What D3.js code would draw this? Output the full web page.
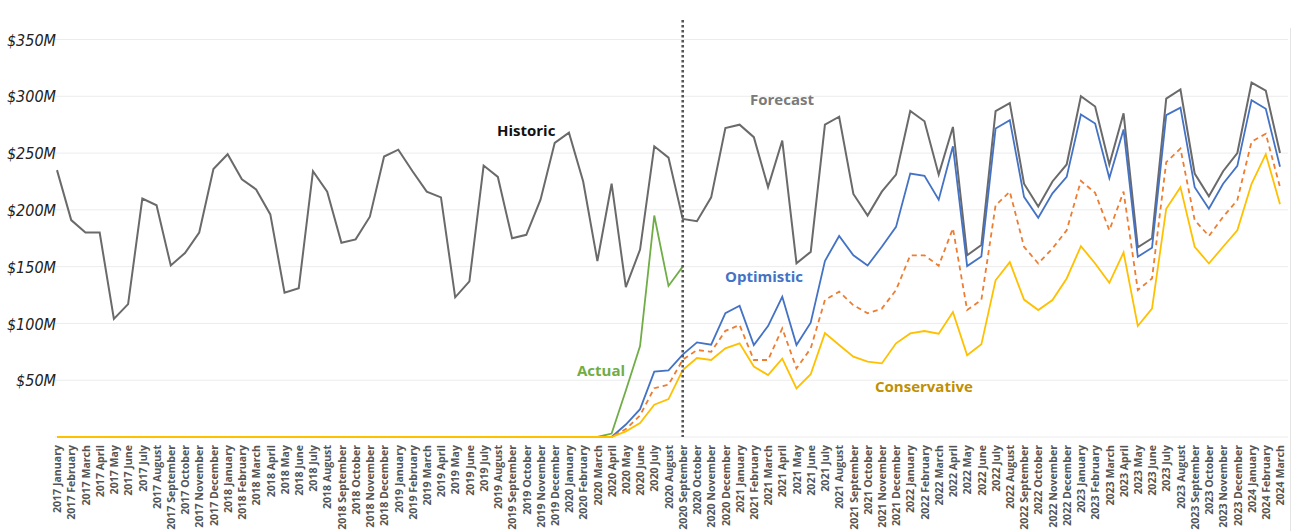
<!DOCTYPE html>
<html>
<head>
<meta charset="utf-8">
<script src="https://cdn.jsdelivr.net/npm/d3@7"></script>
<style>
  html, body { margin: 0; padding: 0; background: #fff; }
  svg { display: block; }
</style>
</head>
<body>
<svg id="chart" width="1293" height="531"></svg>
<script>
// Monthly categories, 2017 January .. 2024 March
const years = [2017, 2018, 2019, 2020, 2021, 2022, 2023, 2024];
const monthNames = ["January", "February", "March", "April", "May", "June",
  "July", "August", "September", "October", "November", "December"];
const categories = [];
years.forEach(y => monthNames.forEach((m, i) => {
  if (y < 2024 || i < 3) categories.push(y + " " + m);
}));

// Historic values continuing into the forecast ($M)
const historic = [
  235, 191, 180, 180, 104, 117, 210, 204, 151, 162, 180, 236,
  249, 227, 218, 196, 127, 131, 234, 216, 171, 174, 194, 247,
  253, 234, 216, 211, 123, 137, 239, 229, 175, 178, 209, 259,
  268, 225, 155, 223, 132, 165, 256, 246, 192, 190, 211, 272,
  275, 264, 220, 261, 153, 163, 275, 282, 214, 195, 216, 231,
  287, 278, 231, 273, 160, 169, 287, 294, 223, 203, 225, 240,
  300, 291, 240, 285, 167, 175, 298, 306, 232, 212, 234, 250,
  312, 305, 250
];

// Actual values through 2020 September ($M)
const actual = [
  0, 0, 0, 0, 0, 0, 0, 0, 0, 0, 0, 0,
  0, 0, 0, 0, 0, 0, 0, 0, 0, 0, 0, 0,
  0, 0, 0, 0, 0, 0, 0, 0, 0, 0, 0, 0,
  0, 0, 0, 3, 41, 80, 195, 133, 150
];

// Optimistic scenario ($M)
const optimistic = [
  0, 0, 0, 0, 0, 0, 0, 0, 0, 0, 0, 0,
  0, 0, 0, 0, 0, 0, 0, 0, 0, 0, 0, 0,
  0, 0, 0, 0, 0, 0, 0, 0, 0, 0, 0, 0,
  0, 0, 0, 0, 11, 24.5, 57.5, 58.7, 72.5, 83.3, 81.3, 109,
  115.5, 81, 97.7, 123.5, 81, 100.6, 155, 177, 160, 151, 167.5, 185,
  232, 230, 209, 256, 150.5, 159, 271.6, 279, 211.5, 193, 214.5, 229,
  284, 276, 228, 270.8, 158.7, 166.6, 283.4, 290, 220, 201, 223, 238.7,
  296.6, 289, 238
];

// Mid-range scenario ($M)
const midRange = [
  0, 0, 0, 0, 0, 0, 0, 0, 0, 0, 0, 0,
  0, 0, 0, 0, 0, 0, 0, 0, 0, 0, 0, 0,
  0, 0, 0, 0, 0, 0, 0, 0, 0, 0, 0, 0,
  0, 0, 0, 0, 7, 19, 43, 46, 68, 76.6, 75, 93.5,
  98.6, 67.8, 67.8, 95.6, 60.4, 78, 120.6, 128, 116, 109, 113, 129.4,
  160, 160, 150.8, 183.7, 111.8, 120.6, 204, 216, 167.5, 152.8, 166, 182,
  225.5, 215, 182, 216, 129.4, 139.6, 242, 254, 191, 177, 193.8, 208.6,
  260, 267, 220
];

// Conservative scenario ($M)
const conservative = [
  0, 0, 0, 0, 0, 0, 0, 0, 0, 0, 0, 0,
  0, 0, 0, 0, 0, 0, 0, 0, 0, 0, 0, 0,
  0, 0, 0, 0, 0, 0, 0, 0, 0, 0, 0, 0,
  0, 0, 0, 0, 5, 12.3, 28.4, 33.4, 59, 69.5, 67.8, 78,
  82.5, 62, 54.6, 69, 42.8, 55.3, 91.5, 81, 70.7, 66.3, 64.8, 82.5,
  91.2, 93.3, 91, 110, 72, 81.6, 138, 154, 121, 111.8, 120.6, 139.6,
  168, 152.8, 135.8, 162.5, 97.7, 113, 201, 220, 167.5, 152.8, 167.5, 182,
  223, 249, 205
];

const yTicks = [50, 100, 150, 200, 250, 300, 350];
const splitMonth = "2020 September";

const svg = d3.select("#chart");

const x = d3.scalePoint().domain(categories).range([57, 1280]);
const y = d3.scaleLinear().domain([0, 350]).range([437, 39.5]);

// Horizontal gridlines
svg.append("g")
  .selectAll("line")
  .data([0].concat(yTicks))
  .join("line")
  .attr("x1", 55).attr("x2", 1288)
  .attr("y1", d => y(d)).attr("y2", d => y(d))
  .attr("stroke", "#ececec")
  .attr("stroke-width", 1);

// Right frame edge
svg.append("line")
  .attr("x1", 1290.5).attr("x2", 1290.5)
  .attr("y1", 28).attr("y2", 531)
  .attr("stroke", "#e4e4e4").attr("stroke-width", 1);

// Y axis labels
const yAxis = d3.axisLeft(y).tickValues(yTicks).tickSize(0).tickPadding(0)
  .tickFormat(d => "$" + d + "M");
svg.append("g")
  .attr("transform", "translate(56,0)")
  .call(yAxis)
  .call(g => g.select(".domain").remove())
  .call(g => g.selectAll("text")
    .attr("font-family", "'Liberation Sans Narrow', 'DejaVu Sans Condensed', 'Open Sans', sans-serif")
    .attr("font-style", "italic")
    .attr("font-size", 16)
    .attr("fill", "#222")
    .attr("dy", "0.35em"));

// X axis labels, rotated
const xAxis = d3.axisBottom(x).tickSize(0).tickPadding(0);
svg.append("g")
  .attr("transform", "translate(0,445)")
  .call(xAxis)
  .call(g => g.select(".domain").remove())
  .call(g => g.selectAll("text")
    .attr("font-family", "'Open Sans', sans-serif")
    .attr("font-weight", 700)
    .attr("font-size", 10.6)
    .attr("fill", "#555")
    .attr("text-anchor", "end")
    .attr("transform", "rotate(-90)")
    .attr("x", 0)
    .attr("y", 0)
    .attr("dx", 0)
    .attr("dy", "0.35em"));

const line = d3.line()
  .defined(d => d != null)
  .x((d, i) => x(categories[i]))
  .y(d => y(d));

function drawSeries(values, color, width, dash) {
  const p = svg.append("path")
    .datum(values)
    .attr("fill", "none")
    .attr("stroke", color)
    .attr("stroke-width", width)
    .attr("stroke-linejoin", "miter")
    .attr("d", line);
  if (dash) p.attr("stroke-dasharray", dash);
}

drawSeries(historic, "#6a6a6a", 2);
drawSeries(actual, "#70ad47", 1.8);
drawSeries(optimistic, "#4472c4", 1.8);
drawSeries(midRange, "#ed7d31", 1.8, "5,4");
drawSeries(conservative, "#ffc000", 1.8);

// Boundary between history and forecast
svg.append("line")
  .attr("x1", x(splitMonth)).attr("x2", x(splitMonth))
  .attr("y1", 20).attr("y2", 437)
  .attr("stroke", "#555")
  .attr("stroke-width", 2.6)
  .attr("stroke-dasharray", "2.6,2.4");

// Series annotations
const notes = [
  { text: "Historic", x: 497, y: 136, color: "#111" },
  { text: "Forecast", x: 750, y: 105, color: "#7a7a7a" },
  { text: "Optimistic", x: 725, y: 282, color: "#4472c4" },
  { text: "Actual", x: 577, y: 376, color: "#70ad47" },
  { text: "Conservative", x: 875, y: 392, color: "#bf9000" }
];
svg.append("g")
  .selectAll("text")
  .data(notes)
  .join("text")
  .attr("x", d => d.x).attr("y", d => d.y)
  .attr("fill", d => d.color)
  .attr("font-family", "'Open Sans', sans-serif")
  .attr("font-weight", 700)
  .attr("font-size", 15)
  .text(d => d.text);
</script>
</body>
</html>
